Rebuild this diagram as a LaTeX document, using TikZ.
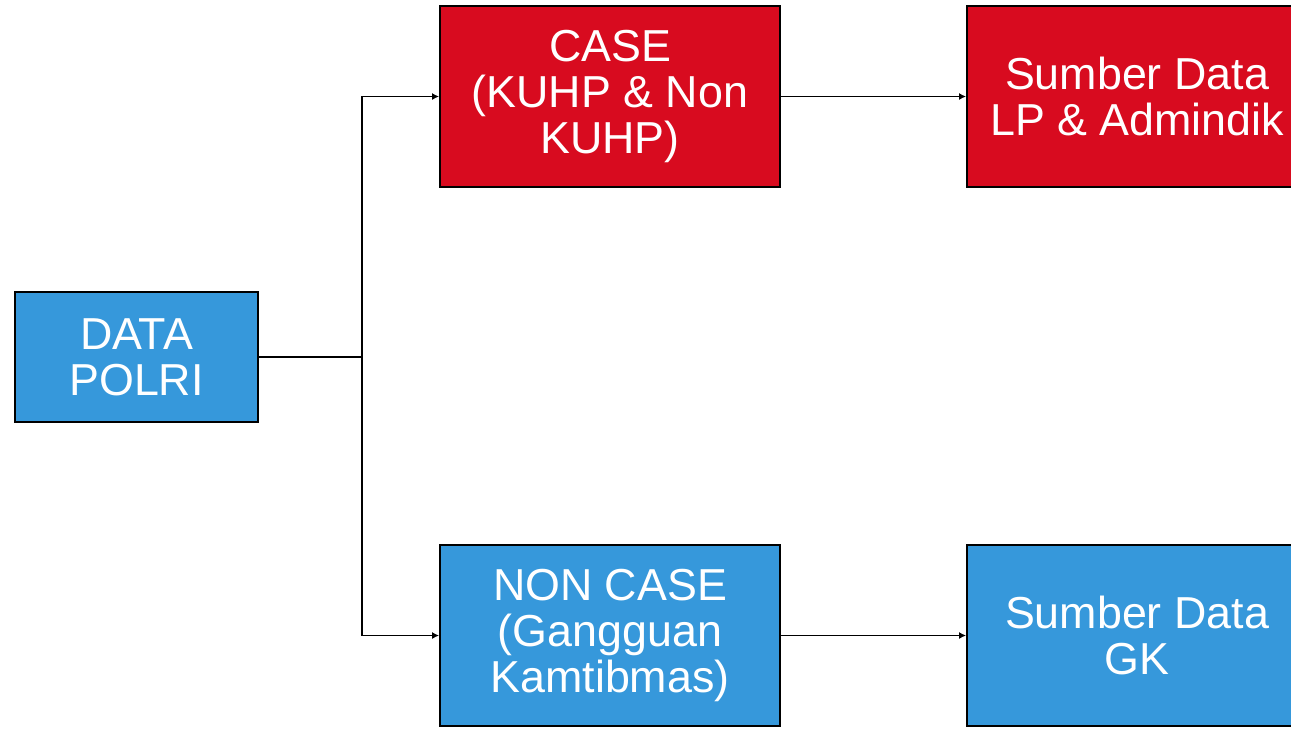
\documentclass[tikz,border=0pt]{standalone}
\usepackage{fontspec}
\setmainfont{Liberation Sans}
\usepackage{xcolor}
\usetikzlibrary{arrows.meta}

\definecolor{polrired}{HTML}{D80B1F}
\definecolor{polriblue}{HTML}{3698DB}

\begin{document}
\begin{tikzpicture}[
		x = 0.02cm, y = -0.02cm,
		box/.style       = {draw=black, line width=1.1pt, text=white, align=center,
		                    font=\fontsize{25.5}{26}\selectfont, inner sep=0pt},
		root/.style      = {box, fill=polriblue, minimum width=4.86cm, minimum height=2.6cm},
		casebox/.style   = {box, fill=polrired, minimum width=6.8cm, minimum height=3.62cm},
		noncase/.style   = {box, fill=polriblue, minimum width=6.8cm, minimum height=3.62cm},
		source/.style    = {box, minimum width=6.8cm, minimum height=3.62cm},
		link/.style      = {line width=1.1pt, -{Latex[length=4pt, width=4pt]}}
	]
	\useasboundingbox (0,0) rectangle (1291,728);
	% nodes
	\node [root]    (polri)  at (136.5,357)  {DATA\\POLRI};
	\node [casebox] (case)   at (610,96.5)   {CASE\\(KUHP \& Non\\KUHP)};
	\node [source, fill=polrired]  (lp) at (1137,96.5) {Sumber Data\\LP \& Admindik};
	\node [noncase] (ncase)  at (610,635.5)  {NON CASE\\(Gangguan\\Kamtibmas)};
	\node [source, fill=polriblue] (gk) at (1137,635.5) {Sumber Data\\GK};
	% connectors
	\coordinate (fork) at (362,357);
	\draw [line width=1.1pt] (polri.east) -- (fork);
	\draw [link] (fork) |- (case.west);
	\draw [link] (fork) |- (ncase.west);
	\draw [link] (case.east) -- (lp.west);
	\draw [link] (ncase.east) -- (gk.west);
\end{tikzpicture}
\end{document}
